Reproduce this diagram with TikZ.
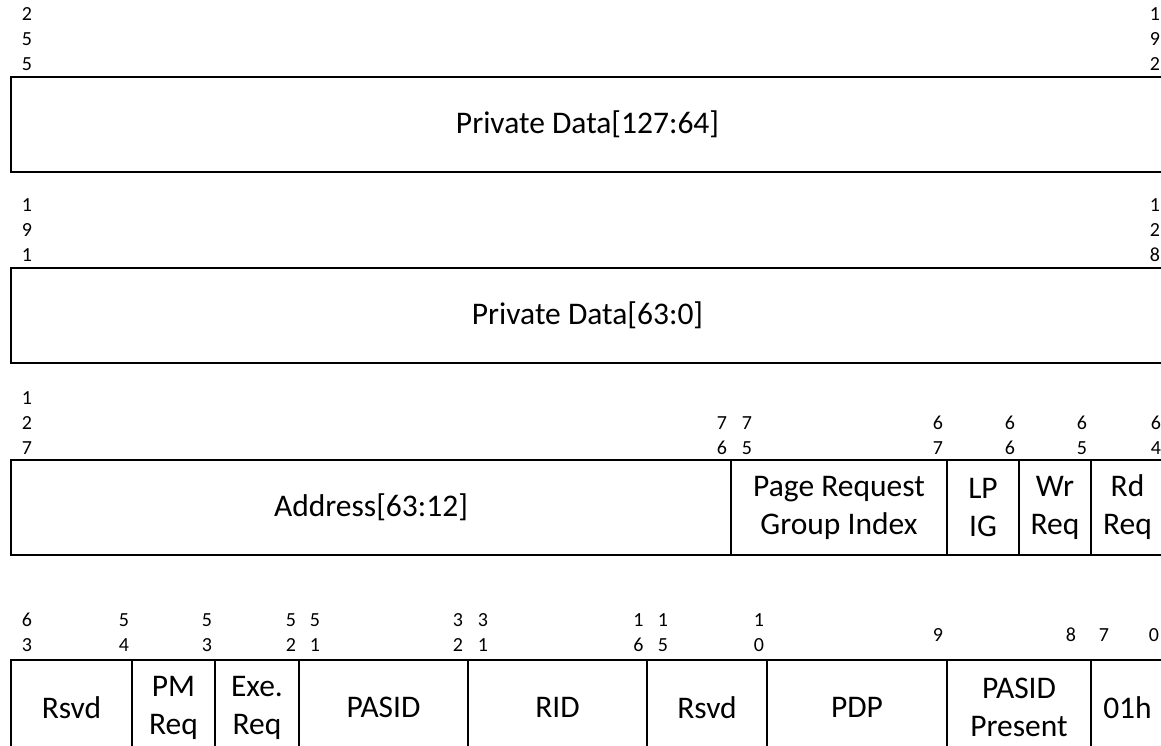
\documentclass[tikz,border=0pt]{standalone}
\usepackage{fontspec}
\setmainfont{Carlito}
\newcommand\fieldcell[6]{%
  \node[cell, minimum width={#3-#2}, minimum height={#5-#4}] (#1) at ({(#2+#3)/2},{(#4+#5)/2}) {#6};}
\newcommand\bitstack[4]{%
  \foreach \d [count=\k] in {#4} {\node[dig] (#1-\k) at (#2,{#3+25*\k-25}) {\d};}}
\begin{document}
\begin{tikzpicture}[x=1pt,y=-1pt,
  cell/.style={draw=black, line width=2.2pt, inner sep=0pt, align=center,
    font=\fontsize{31.5}{38}\selectfont},
  dig/.style={font=\fontsize{20}{25}\selectfont, inner sep=0pt, anchor=base}]
\useasboundingbox (0,0) rectangle (1161,746);
\clip (0,0) rectangle (1161,746);
% row 1
\fieldcell{pdhi}{11}{1164}{77}{172}{Private Data[127:64]}
\bitstack{b255}{27}{20.7}{2,5,5}
\bitstack{b192}{1155}{20.7}{1,9,2}
% row 2
\fieldcell{pdlo}{11}{1164}{268}{363}{Private Data[63:0]}
\bitstack{b191}{27}{211.7}{1,9,1}
\bitstack{b128}{1155}{211.7}{1,2,8}
% row 3
\fieldcell{addr}{11}{731}{460}{555}{Address[63:12]}
\fieldcell{prgi}{731}{947}{460}{555}{Page Request\\Group Index}
\fieldcell{lpig}{947}{1019}{460}{555}{LP\\IG}
\fieldcell{wrreq}{1019}{1091}{460}{555}{Wr\\Req}
\fieldcell{rdreq}{1091}{1164}{460}{555}{Rd\\Req}
\bitstack{b127}{27}{404}{1,2,7}
\bitstack{b76}{722}{429}{7,6}
\bitstack{b75}{747}{429}{7,5}
\bitstack{b67}{938}{429}{6,7}
\bitstack{b66}{1010}{429}{6,6}
\bitstack{b65}{1082}{429}{6,5}
\bitstack{b64}{1156}{429}{6,4}
% row 4
\fieldcell{rsvdhi}{11}{132}{660}{755}{Rsvd}
\fieldcell{pmreq}{132}{215}{660}{755}{PM\\Req}
\fieldcell{exereq}{215}{299}{660}{755}{Exe.\\Req}
\fieldcell{pasid}{299}{468}{660}{755}{PASID}
\fieldcell{rid}{468}{647}{660}{755}{RID}
\fieldcell{rsvdlo}{647}{767}{660}{755}{Rsvd}
\fieldcell{pdp}{767}{947}{660}{755}{PDP}
\fieldcell{pasidp}{947}{1091}{660}{755}{PASID\\Present}
\fieldcell{msgtype}{1091}{1164}{660}{755}{01h}
\bitstack{b63}{27}{626}{6,3}
\bitstack{b54}{124}{626}{5,4}
\bitstack{b53}{207}{626}{5,3}
\bitstack{b52}{291}{626}{5,2}
\bitstack{b51}{315}{626}{5,1}
\bitstack{b32}{458}{626}{3,2}
\bitstack{b31}{483}{626}{3,1}
\bitstack{b16}{638.5}{626}{1,6}
\bitstack{b15}{663}{626}{1,5}
\bitstack{b10}{759}{626}{1,0}
\bitstack{b9}{938}{641}{9}
\bitstack{b8}{1071}{641}{8}
\bitstack{b7}{1104}{641}{7}
\bitstack{b0}{1154}{641}{0}
\end{tikzpicture}
\end{document}
